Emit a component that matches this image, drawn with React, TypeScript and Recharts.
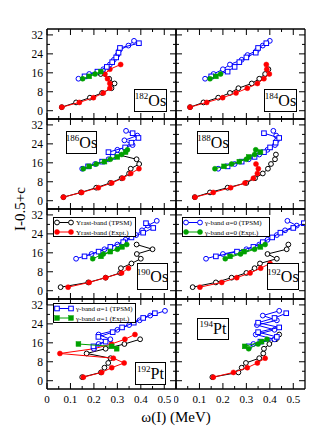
import React from "react";
import { ScatterChart, Scatter, XAxis, YAxis } from "recharts";

const FONT = "'Liberation Serif', 'DejaVu Serif', serif";

// [omega(I) in MeV, I-0.5+c]
const os182YrastTh = [[0.063, 1.5], [0.124, 3.5], [0.183, 5.5], [0.235, 7.5], [0.275, 9.5], [0.288, 11.5], [0.265, 13.5], [0.229, 15.5]];
const os182YrastEx = [[0.063, 1.5], [0.138, 3.5], [0.198, 5.5], [0.24, 7.5], [0.268, 9.5], [0.268, 11.5], [0.258, 13.5], [0.247, 15.5], [0.268, 17.5], [0.314, 19.5]];
const os182G0Th = [[0.134, 13.5], [0.18, 15.5], [0.24, 17.5], [0.268, 19.5], [0.285, 21.5], [0.3, 23.5], [0.308, 25.5], [0.347, 27.5], [0.371, 29.5]];
const os182G1Th = [[0.16, 14.5], [0.215, 16.5], [0.255, 18.5], [0.278, 20.5], [0.295, 22.5], [0.305, 24.5], [0.311, 26.5], [0.392, 28.5]];
const os182G0Ex = [[0.152, 13.5], [0.205, 15.5]];
const os182G1Ex = [[0.18, 14.5], [0.229, 16.5]];

const os184YrastTh = [[0.06, 1.5], [0.117, 3.5], [0.18, 5.5], [0.23, 7.5], [0.266, 9.5], [0.323, 11.5], [0.355, 13.5], [0.38, 15.5], [0.394, 17.5]];
const os184YrastEx = [[0.06, 1.5], [0.131, 3.5], [0.199, 5.5], [0.256, 7.5], [0.304, 9.5], [0.347, 11.5], [0.375, 13.5], [0.398, 15.5], [0.387, 17.5], [0.385, 19.5]];
const os184G0Th = [[0.124, 13.5], [0.16, 15.5], [0.2, 17.5], [0.23, 19.5], [0.28, 21.5], [0.305, 23.5], [0.345, 25.5], [0.37, 27.5], [0.4, 29.5]];
const os184G1Th = [[0.15, 14.5], [0.22, 16.5], [0.25, 18.5], [0.27, 20.5], [0.3, 22.5], [0.34, 24.5], [0.35, 26.5], [0.385, 28.5]];
const os184G0Ex = [[0.145, 13.5], [0.19, 15.5]];
const os184G1Ex = [[0.17, 14.5]];

const os186YrastTh = [[0.07, 1.5], [0.145, 3.5], [0.21, 5.5], [0.27, 7.5], [0.318, 9.5], [0.35, 11.5], [0.357, 13.5], [0.393, 15.5], [0.382, 17.5], [0.3, 19.5]];
const os186YrastEx = [[0.07, 1.5], [0.148, 3.5], [0.219, 5.5], [0.276, 7.5], [0.323, 9.5], [0.357, 11.5], [0.392, 13.5]];
const os186G0Th = [[0.15, 13.5], [0.205, 15.5], [0.262, 17.5], [0.3, 19.5], [0.3, 21.5], [0.365, 23.5], [0.33, 25.5], [0.385, 27.5], [0.337, 29.5]];
const os186G1Th = [[0.175, 14.5], [0.235, 16.5], [0.28, 18.5], [0.262, 20.5], [0.333, 22.5], [0.36, 24.5], [0.39, 26.5], [0.365, 28.5]];
const os186G0Ex = [[0.155, 13.5], [0.21, 15.5], [0.27, 17.5], [0.318, 19.5], [0.343, 21.5]];
const os186G1Ex = [[0.18, 14.5], [0.245, 16.5], [0.3, 18.5], [0.335, 20.5]];

const os188YrastTh = [[0.08, 1.5], [0.145, 3.5], [0.22, 5.5], [0.3, 7.5], [0.337, 9.5], [0.37, 11.5], [0.392, 13.5], [0.405, 15.5], [0.422, 17.5], [0.426, 19.5]];
const os188YrastEx = [[0.081, 1.5], [0.159, 3.5], [0.233, 5.5], [0.294, 7.5], [0.33, 9.5], [0.347, 11.5], [0.351, 13.5], [0.341, 15.5]];
const os188G0Th = [[0.18, 13.5], [0.25, 15.5], [0.31, 17.5], [0.355, 19.5], [0.39, 21.5], [0.422, 23.5], [0.43, 25.5], [0.427, 27.5], [0.415, 29.5]];
const os188G1Th = [[0.22, 14.5], [0.28, 16.5], [0.335, 18.5], [0.375, 20.5], [0.401, 22.5], [0.425, 24.5], [0.44, 26.5], [0.375, 28.5]];
const os188G0Ex = [[0.166, 13.5], [0.237, 15.5], [0.3, 17.5], [0.335, 19.5], [0.34, 21.5]];
const os188G1Ex = [[0.205, 14.5], [0.27, 16.5], [0.31, 18.5], [0.36, 20.5]];

const os190YrastTh = [[0.058, 1.5], [0.176, 3.5], [0.25, 5.5], [0.312, 7.5], [0.315, 9.5], [0.36, 11.5], [0.4, 13.5], [0.383, 15.5], [0.45, 17.5], [0.382, 19.5]];
const os190YrastEx = [[0.09, 1.5], [0.18, 3.5], [0.25, 5.5], [0.318, 7.5], [0.347, 9.5]];
const os190G0Th = [[0.124, 13.5], [0.19, 15.5], [0.245, 17.5], [0.3, 19.5], [0.335, 21.5], [0.38, 23.5], [0.405, 25.5], [0.43, 27.5], [0.468, 29.5]];
const os190G1Th = [[0.16, 14.5], [0.22, 16.5], [0.27, 18.5], [0.325, 20.5], [0.36, 22.5], [0.41, 24.5], [0.453, 26.5], [0.422, 28.5]];
const os190G0Ex = [[0.195, 13.5], [0.24, 15.5], [0.3, 17.5], [0.34, 19.5]];
const os190G1Ex = [[0.23, 14.5], [0.27, 16.5], [0.32, 18.5]];

const os192YrastTh = [[0.071, 1.5], [0.17, 3.5], [0.237, 5.5], [0.3, 7.5], [0.335, 9.5], [0.358, 11.5], [0.43, 13.5], [0.39, 15.5], [0.472, 17.5], [0.479, 19.5]];
const os192YrastEx = [[0.102, 1.5], [0.195, 3.5], [0.259, 5.5], [0.316, 7.5], [0.361, 9.5], [0.401, 11.5]];
const os192G0Th = [[0.128, 13.5], [0.2, 15.5], [0.3, 17.5], [0.355, 19.5], [0.39, 21.5], [0.43, 23.5], [0.465, 25.5], [0.515, 27.5], [0.475, 29.5]];
const os192G1Th = [[0.17, 14.5], [0.26, 16.5], [0.33, 18.5], [0.37, 20.5], [0.41, 22.5], [0.445, 24.5], [0.5, 26.5], [0.545, 28.5]];
const os192G0Ex = [[0.21, 13.5], [0.275, 15.5], [0.335, 17.5], [0.38, 19.5]];
const os192G1Ex = [[0.23, 14.5], [0.29, 16.5], [0.36, 18.5]];

const pt192YrastTh = [[0.15, 1.5], [0.23, 3.5], [0.245, 5.5], [0.261, 7.5], [0.271, 9.5], [0.169, 11.5], [0.25, 13.5], [0.33, 15.5], [0.397, 17.5]];
const pt192YrastEx = [[0.155, 1.5], [0.233, 3.5], [0.276, 5.5], [0.329, 7.5], [0.283, 9.5], [0.055, 11.5], [0.2, 13.5], [0.275, 15.5], [0.332, 17.5], [0.375, 19.5]];
const pt192G0Th = [[0.2, 13.5], [0.22, 15.5], [0.27, 17.5], [0.22, 19.5], [0.3, 21.5], [0.35, 23.5], [0.395, 25.5], [0.44, 27.5], [0.503, 29.5]];
const pt192G1Th = [[0.198, 14.5], [0.25, 16.5], [0.219, 18.5], [0.28, 20.5], [0.32, 22.5], [0.37, 24.5], [0.41, 26.5], [0.46, 28.5]];
const pt192G0Ex: number[][] = [];
const pt192G1Ex = [[0.297, 13.5], [0.276, 14.5], [0.134, 15.5]];

const pt194YrastTh = [[0.155, 1.5], [0.266, 3.5], [0.28, 5.5], [0.298, 7.5], [0.355, 9.5], [0.372, 11.5], [0.375, 13.5], [0.398, 15.5], [0.426, 17.5], [0.44, 19.5]];
const pt194YrastEx = [[0.159, 1.5], [0.245, 3.5], [0.304, 5.5], [0.347, 7.5], [0.38, 9.5]];
const pt194G0Th = [[0.33, 15.5], [0.42, 17.5], [0.34, 19.5], [0.42, 21.5], [0.345, 23.5], [0.43, 25.5], [0.37, 27.5], [0.44, 29.5]];
const pt194G1Th = [[0.31, 14.5], [0.36, 16.5], [0.43, 18.5], [0.35, 20.5], [0.44, 22.5], [0.35, 24.5], [0.42, 26.5], [0.47, 28.5]];
const pt194G0Ex = [[0.31, 13.5], [0.35, 15.5], [0.388, 17.5]];
const pt194G1Ex = [[0.293, 14.5], [0.365, 16.5]];

const xTicks = [0, 0.05, 0.1, 0.15, 0.2, 0.25, 0.3, 0.35, 0.4, 0.45, 0.5];
const yTicks = [0, 4, 8, 12, 16, 20, 24, 28, 32];

const legendYrast = ["Yrast-band (TPSM)", "Yrast-band (Expt.)"];
const legendG0 = ["\u03b3-band \u03b1=0 (TPSM)", "\u03b3-band \u03b1=0 (Expt.)"];
const legendG1 = ["\u03b3-band \u03b1=1 (TPSM)", "\u03b3-band \u03b1=1 (Expt.)"];

const BLUE = "#0000ff";
const GREEN = "#00a000";
const RED = "#ff0000";

type Kind = "oc" | "fc" | "os" | "fs";
const styles: { key: string; color: string; kind: Kind }[] = [
  { key: "yTh", color: "#000", kind: "oc" },
  { key: "yEx", color: RED, kind: "fc" },
  { key: "g0Th", color: BLUE, kind: "oc" },
  { key: "g1Th", color: BLUE, kind: "os" },
  { key: "g0Ex", color: GREEN, kind: "fc" },
  { key: "g1Ex", color: GREEN, kind: "fs" },
];

const PLOT_W = 129;
const PLOT_H = 90;
const LEFTS = [47, 176];
const TOPS = [29, 119, 209, 299];
const M = 2;

const panels = [
  { mass: "182", el: "Os", row: 0, col: 0, box: [134, 89, 33, 23], s: { yTh: os182YrastTh, yEx: os182YrastEx, g0Th: os182G0Th, g1Th: os182G1Th, g0Ex: os182G0Ex, g1Ex: os182G1Ex } },
  { mass: "184", el: "Os", row: 0, col: 1, box: [264, 89, 33, 23], s: { yTh: os184YrastTh, yEx: os184YrastEx, g0Th: os184G0Th, g1Th: os184G1Th, g0Ex: os184G0Ex, g1Ex: os184G1Ex } },
  { mass: "186", el: "Os", row: 1, col: 0, box: [66, 131, 31, 23], s: { yTh: os186YrastTh, yEx: os186YrastEx, g0Th: os186G0Th, g1Th: os186G1Th, g0Ex: os186G0Ex, g1Ex: os186G1Ex } },
  { mass: "188", el: "Os", row: 1, col: 1, box: [197, 131, 32, 23], s: { yTh: os188YrastTh, yEx: os188YrastEx, g0Th: os188G0Th, g1Th: os188G1Th, g0Ex: os188G0Ex, g1Ex: os188G1Ex } },
  { mass: "190", el: "Os", row: 2, col: 0, box: [137, 263, 31, 27], s: { yTh: os190YrastTh, yEx: os190YrastEx, g0Th: os190G0Th, g1Th: os190G1Th, g0Ex: os190G0Ex, g1Ex: os190G1Ex } },
  { mass: "192", el: "Os", row: 2, col: 1, box: [267, 263, 32, 27], s: { yTh: os192YrastTh, yEx: os192YrastEx, g0Th: os192G0Th, g1Th: os192G1Th, g0Ex: os192G0Ex, g1Ex: os192G1Ex } },
  { mass: "192", el: "Pt", row: 3, col: 0, box: [135, 362, 31, 23], s: { yTh: pt192YrastTh, yEx: pt192YrastEx, g0Th: pt192G0Th, g1Th: pt192G1Th, g0Ex: pt192G0Ex, g1Ex: pt192G1Ex } },
  { mass: "194", el: "Pt", row: 3, col: 1, box: [197, 318, 32, 22], s: { yTh: pt194YrastTh, yEx: pt194YrastEx, g0Th: pt194G0Th, g1Th: pt194G1Th, g0Ex: pt194G0Ex, g1Ex: pt194G1Ex } },
];

const legends = [
  { left: 53, top: 217, width: 83, labels: legendYrast, st: [styles[0], styles[1]] },
  { left: 182, top: 217, width: 88, labels: legendG0, st: [styles[2], styles[4]] },
  { left: 53, top: 303, width: 83, labels: legendG1, st: [styles[3], styles[5]] },
];

function marker(kind: Kind, color: string, cx: number, cy: number) {
  if (kind === "oc") return <circle cx={cx} cy={cy} r={2.4} fill="#fff" stroke={color} strokeWidth={1} />;
  if (kind === "fc") return <circle cx={cx} cy={cy} r={2.5} fill={color} stroke={color} strokeWidth={0.5} />;
  if (kind === "os") return <rect x={cx - 2.3} y={cy - 2.3} width={4.6} height={4.6} fill="#fff" stroke={color} strokeWidth={1} />;
  return <rect x={cx - 2.4} y={cy - 2.4} width={4.8} height={4.8} fill={color} stroke={color} strokeWidth={0.5} />;
}

const majorX = (v: number) => Math.abs(v * 10 - Math.round(v * 10)) < 1e-6;
const majorY = (v: number) => v % 8 === 0;
const fmtX = (v: number) => (v === 0 ? "0" : v.toFixed(1));

const bottomTick = (labels: boolean) => (p: any) => {
  const v = p.payload.value;
  const big = majorX(v);
  return (
    <g>
      <line x1={p.x} x2={p.x} y1={p.y} y2={p.y - (big ? 6 : 3)} stroke="#000" strokeWidth={1} />
      {labels && big && (
        <text x={p.x} y={p.y + 14} textAnchor="middle" fontSize={11} fontFamily={FONT} fill="#000">
          {fmtX(v)}
        </text>
      )}
    </g>
  );
};
const topTick = (p: any) => {
  const big = majorX(p.payload.value);
  return <line x1={p.x} x2={p.x} y1={p.y} y2={p.y + (big ? 6 : 3)} stroke="#000" strokeWidth={1} />;
};
const leftTick = (labels: boolean) => (p: any) => {
  const v = p.payload.value;
  const big = majorY(v);
  return (
    <g>
      <line x1={p.x} x2={p.x + (big ? 6 : 3)} y1={p.y} y2={p.y} stroke="#000" strokeWidth={1} />
      {labels && big && (
        <text x={p.x - 4} y={p.y + 4} textAnchor="end" fontSize={11.5} fontFamily={FONT} fill="#000">
          {v}
        </text>
      )}
    </g>
  );
};
const rightTick = (p: any) => {
  const big = majorY(p.payload.value);
  return <line x1={p.x} x2={p.x - (big ? 6 : 3)} y1={p.y} y2={p.y} stroke="#000" strokeWidth={1} />;
};

const toPts = (a: number[][]) => a.map(([x, y]) => ({ x, y }));
const frame = { stroke: "#000", strokeWidth: 1.3 };

function Panel({ p }: { p: (typeof panels)[number] }) {
  const labelY = p.col === 0;
  const labelX = p.row === 3;
  const yW = labelY ? 36 : 0;
  const xH = labelX ? 22 : 0;
  const left = LEFTS[p.col] - yW - M;
  const top = TOPS[p.row] - M;
  return (
    <div style={{ position: "absolute", left, top }}>
      <ScatterChart width={yW + PLOT_W + 2 * M} height={PLOT_H + xH + 2 * M} margin={{ top: M, right: M, bottom: M, left: M }}>
        <XAxis xAxisId="b" orientation="bottom" mirror={!labelX} type="number" dataKey="x" domain={[0, 0.55]} allowDataOverflow ticks={xTicks} interval={0} height={labelX ? xH : 10} tickSize={0} tickMargin={0} tickLine={false} stroke="#000" axisLine={frame} tick={bottomTick(labelX)} />
        <XAxis xAxisId="t" orientation="top" mirror type="number" dataKey="x" domain={[0, 0.55]} allowDataOverflow ticks={xTicks} interval={0} height={10} tickSize={0} tickMargin={0} tickLine={false} stroke="#000" axisLine={frame} tick={topTick} />
        <YAxis yAxisId="l" orientation="left" mirror={!labelY} type="number" dataKey="y" domain={[-3.5, 34.5]} allowDataOverflow ticks={yTicks} interval={0} width={labelY ? yW : 10} tickSize={0} tickMargin={0} tickLine={false} stroke="#000" axisLine={frame} tick={leftTick(labelY)} />
        <YAxis yAxisId="r" orientation="right" mirror type="number" dataKey="y" domain={[-3.5, 34.5]} allowDataOverflow ticks={yTicks} interval={0} width={10} tickSize={0} tickMargin={0} tickLine={false} stroke="#000" axisLine={frame} tick={rightTick} />
        {styles.map((st) => {
          const arr = (p.s as any)[st.key] as number[][];
          if (!arr.length) return null;
          return (
            <Scatter
              key={st.key}
              data={toPts(arr)}
              xAxisId="b"
              yAxisId="l"
              line={{ stroke: st.color, strokeWidth: 1 }}
              shape={(s: any) => marker(st.kind, st.color, s.cx, s.cy)}
              isAnimationActive={false}
            />
          );
        })}
      </ScatterChart>
    </div>
  );
}

export default function App() {
  return (
    <div style={{ position: "absolute", left: 0, top: 0, width: 311, height: 440, background: "#fff", fontFamily: FONT }}>
      {panels.map((p) => (
        <Panel key={p.mass + p.el} p={p} />
      ))}
      {panels.map((p) => (
        <div
          key={"b" + p.mass + p.el}
          style={{
            position: "absolute", left: p.box[0], top: p.box[1], width: p.box[2], height: p.box[3],
            border: "1.5px solid #000", background: "#fff", boxSizing: "border-box",
            display: "flex", alignItems: "center", justifyContent: "center", color: "#000",
          }}
        >
          <span style={{ fontSize: 9, position: "relative", top: -5 }}>{p.mass}</span>
          <span style={{ fontSize: 16 }}>{p.el}</span>
        </div>
      ))}
      {legends.map((l, i) => (
        <div key={i} style={{ position: "absolute", left: l.left, top: l.top, width: l.width, height: 20, border: "1px solid #000", background: "#fff", boxSizing: "border-box" }}>
          <svg width={l.width} height={20} style={{ position: "absolute", left: -1, top: -1 }}>
            {l.st.map((st, j) => {
              const y = 5.5 + j * 9.5;
              return (
                <g key={j}>
                  <line x1={4} x2={18} y1={y} y2={y} stroke={st.color} strokeWidth={1} />
                  {marker(st.kind, st.color, 4, y)}
                  {marker(st.kind, st.color, 18, y)}
                  <text x={23} y={y + 2.5} fontSize={7} fontFamily={FONT} fill="#000">{l.labels[j]}</text>
                </g>
              );
            })}
          </svg>
        </div>
      ))}
      <div style={{ position: "absolute", left: -30, top: 199, width: 100, height: 20, lineHeight: "20px", textAlign: "center", fontSize: 15, transform: "rotate(-90deg)", color: "#000" }}>
        I-0.5+c
      </div>
      <div style={{ position: "absolute", left: 76, top: 408, width: 200, lineHeight: "18px", textAlign: "center", fontSize: 15, color: "#000" }}>
        {"\u03c9(I) (MeV)"}
      </div>
    </div>
  );
}
